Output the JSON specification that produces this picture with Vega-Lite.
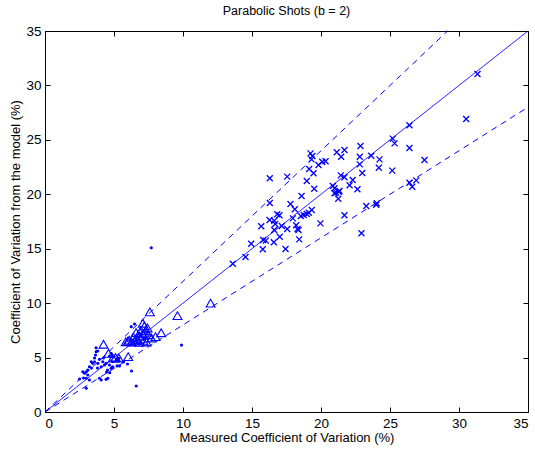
{
  "$schema": "https://vega.github.io/schema/vega-lite/v6.json",
  "autosize": {"type": "none"},
  "width": 483,
  "height": 381,
  "padding": {"left": 45, "top": 31, "right": 7, "bottom": 42},
  "background": "white",
  "config": {
    "view": {"stroke": "black", "strokeWidth": 1},
    "font": "Liberation Sans",
    "axis": {"grid": false, "domainColor": "black", "tickColor": "black", "labelColor": "black", "titleColor": "black", "labelFont": "Liberation Sans", "titleFont": "Liberation Sans", "titleFontWeight": "normal", "labelFontSize": 13.5, "titleFontSize": 13}
  },
  "title": {"text": "Parabolic Shots (b = 2)", "fontSize": 12.5, "fontWeight": "normal", "font": "Liberation Sans", "color": "black", "offset": 7, "anchor": "middle"},
  "datasets": {
    "lines": [
      {"x": 0, "y": 0, "line": "equal"}, {"x": 35, "y": 35, "line": "equal"},
      {"x": 0, "y": 0, "line": "upper"}, {"x": 29.17, "y": 35, "line": "upper"},
      {"x": 0, "y": 0, "line": "lower"}, {"x": 35, "y": 28, "line": "lower"}
    ],
    "crosses": [
      {"x": 19.24, "y": 23.76}, {"x": 21.14, "y": 23.86}, {"x": 19.31, "y": 23.21}, {"x": 19.38, "y": 23.52},
      {"x": 19.82, "y": 22.69}, {"x": 20.09, "y": 22.99}, {"x": 20.33, "y": 23.03}, {"x": 19.14, "y": 22.32},
      {"x": 19.46, "y": 21.93}, {"x": 16.29, "y": 21.47}, {"x": 17.55, "y": 21.62}, {"x": 18.97, "y": 21.22},
      {"x": 19.51, "y": 20.51}, {"x": 18.59, "y": 19.84}, {"x": 16.29, "y": 19.2}, {"x": 17.79, "y": 19.11},
      {"x": 18.1, "y": 18.62}, {"x": 16.83, "y": 18.16}, {"x": 16.99, "y": 18.07}, {"x": 19.33, "y": 18.56},
      {"x": 19.12, "y": 18.31}, {"x": 18.97, "y": 18.19}, {"x": 18.75, "y": 18.1}, {"x": 18.54, "y": 18.0},
      {"x": 17.96, "y": 17.79}, {"x": 16.27, "y": 17.64}, {"x": 16.61, "y": 17.57}, {"x": 16.68, "y": 17.27},
      {"x": 15.67, "y": 17.06}, {"x": 17.16, "y": 17.09}, {"x": 18.2, "y": 17.15}, {"x": 18.3, "y": 16.81},
      {"x": 18.37, "y": 16.72}, {"x": 17.55, "y": 16.81}, {"x": 16.61, "y": 16.72}, {"x": 19.96, "y": 17.33},
      {"x": 17.01, "y": 16.1}, {"x": 15.81, "y": 15.8}, {"x": 16.0, "y": 15.74}, {"x": 18.42, "y": 15.86},
      {"x": 14.94, "y": 15.46}, {"x": 16.58, "y": 15.59}, {"x": 15.78, "y": 14.95}, {"x": 17.43, "y": 14.97},
      {"x": 14.53, "y": 14.24}, {"x": 13.61, "y": 13.62}, {"x": 20.98, "y": 20.55}, {"x": 21.1, "y": 20.15},
      {"x": 21.25, "y": 19.59}, {"x": 21.29, "y": 20.24}, {"x": 30.52, "y": 26.92}, {"x": 26.41, "y": 26.34},
      {"x": 25.2, "y": 25.11}, {"x": 25.33, "y": 24.68}, {"x": 22.86, "y": 24.43}, {"x": 26.41, "y": 24.25},
      {"x": 21.7, "y": 24.07}, {"x": 21.46, "y": 23.45}, {"x": 22.81, "y": 23.45}, {"x": 23.64, "y": 23.54},
      {"x": 24.24, "y": 23.21}, {"x": 27.5, "y": 23.15}, {"x": 22.81, "y": 22.75}, {"x": 24.19, "y": 22.44},
      {"x": 25.16, "y": 22.17}, {"x": 22.99, "y": 21.95}, {"x": 21.43, "y": 21.74}, {"x": 21.7, "y": 21.56},
      {"x": 22.3, "y": 21.31}, {"x": 26.41, "y": 21.06}, {"x": 26.61, "y": 20.7}, {"x": 26.9, "y": 21.28},
      {"x": 22.07, "y": 20.83}, {"x": 20.86, "y": 20.76}, {"x": 21.34, "y": 20.3}, {"x": 22.64, "y": 20.46},
      {"x": 21.7, "y": 18.07}, {"x": 23.28, "y": 18.92}, {"x": 24.0, "y": 19.04}, {"x": 24.04, "y": 19.17},
      {"x": 22.93, "y": 16.42}, {"x": 31.34, "y": 31.05}, {"x": 20.98, "y": 20.09}
    ],
    "triangles": [
      {"x": 4.24, "y": 6.22}, {"x": 4.6, "y": 5.39}, {"x": 4.91, "y": 4.96}, {"x": 5.11, "y": 5.02},
      {"x": 5.35, "y": 4.96}, {"x": 6.03, "y": 5.08}, {"x": 6.27, "y": 6.43}, {"x": 6.49, "y": 6.52},
      {"x": 6.7, "y": 6.61}, {"x": 6.92, "y": 6.71}, {"x": 7.14, "y": 6.52}, {"x": 7.36, "y": 6.43},
      {"x": 6.63, "y": 6.8}, {"x": 6.85, "y": 6.98}, {"x": 7.07, "y": 7.17}, {"x": 7.28, "y": 7.44},
      {"x": 7.43, "y": 7.72}, {"x": 7.09, "y": 8.15}, {"x": 7.6, "y": 9.2}, {"x": 7.21, "y": 7.26},
      {"x": 7.72, "y": 6.8}, {"x": 8.01, "y": 6.92}, {"x": 8.42, "y": 7.28}, {"x": 9.6, "y": 8.85},
      {"x": 12.0, "y": 10.0}, {"x": 6.1, "y": 6.6}, {"x": 6.4, "y": 6.9}, {"x": 6.95, "y": 7.5},
      {"x": 7.5, "y": 7.1}, {"x": 6.6, "y": 7.3}, {"x": 6.0, "y": 6.5}, {"x": 5.85, "y": 6.45},
      {"x": 7.2, "y": 7.9}, {"x": 6.8, "y": 6.4}
    ],
    "dots": [
      {"x": 3.71, "y": 5.54}, {"x": 3.66, "y": 5.24}, {"x": 3.95, "y": 4.84}, {"x": 4.19, "y": 4.62},
      {"x": 4.43, "y": 4.47}, {"x": 4.67, "y": 4.32}, {"x": 4.31, "y": 4.32}, {"x": 4.07, "y": 4.16},
      {"x": 3.83, "y": 4.47}, {"x": 3.59, "y": 4.62}, {"x": 4.91, "y": 4.62}, {"x": 5.16, "y": 4.78},
      {"x": 5.35, "y": 4.93}, {"x": 3.22, "y": 4.16}, {"x": 3.1, "y": 3.86}, {"x": 2.99, "y": 3.7},
      {"x": 2.86, "y": 3.56}, {"x": 3.1, "y": 3.4}, {"x": 2.99, "y": 3.1}, {"x": 3.22, "y": 2.94},
      {"x": 3.95, "y": 3.1}, {"x": 4.43, "y": 3.0}, {"x": 4.91, "y": 4.16}, {"x": 4.8, "y": 4.01},
      {"x": 6.61, "y": 2.39}, {"x": 2.99, "y": 2.18}, {"x": 3.35, "y": 4.62}, {"x": 3.46, "y": 4.47},
      {"x": 2.74, "y": 3.7}, {"x": 4.07, "y": 2.94}, {"x": 4.55, "y": 3.1}, {"x": 6.27, "y": 3.77},
      {"x": 9.89, "y": 6.15}, {"x": 7.7, "y": 15.09}, {"x": 6.25, "y": 7.84}, {"x": 6.49, "y": 8.08},
      {"x": 3.59, "y": 4.96}, {"x": 3.37, "y": 4.04}, {"x": 4.46, "y": 3.67}, {"x": 5.4, "y": 4.23},
      {"x": 5.69, "y": 4.59}, {"x": 5.98, "y": 4.41}, {"x": 4.67, "y": 5.14}, {"x": 4.24, "y": 4.96},
      {"x": 3.8, "y": 4.04}, {"x": 2.79, "y": 3.12}, {"x": 2.5, "y": 3.03}, {"x": 3.82, "y": 5.6},
      {"x": 3.7, "y": 5.9}, {"x": 4.79, "y": 5.38}, {"x": 5.2, "y": 4.83}, {"x": 5.35, "y": 4.68},
      {"x": 4.53, "y": 3.86}, {"x": 4.69, "y": 3.61}, {"x": 4.87, "y": 4.1}, {"x": 5.23, "y": 4.23}
    ]
  },
  "layer": [
    {
      "data": {"name": "lines"},
      "mark": {"type": "line", "color": "#0000ff", "strokeWidth": 1},
      "encoding": {
        "x": {"field": "x", "type": "quantitative", "scale": {"domain": [0, 35], "nice": false}, "axis": {"values": [0, 5, 10, 15, 20, 25, 30, 35], "tickSize": -5, "labelPadding": 9, "title": "Measured Coefficient of Variation (%)", "titlePadding": 2}},
        "y": {"field": "y", "type": "quantitative", "scale": {"domain": [0, 35], "nice": false}, "axis": {"values": [0, 5, 10, 15, 20, 25, 30, 35], "tickSize": -5, "labelPadding": 9, "title": "Coefficient of Variation from the model (%)", "titlePadding": 3}},
        "detail": {"field": "line"},
        "strokeDash": {"field": "line", "type": "nominal", "scale": {"domain": ["equal", "upper", "lower"], "range": [[1, 0], [6, 5], [6, 5]]}, "legend": null}
      }
    },
    {
      "data": {"name": "lines"},
      "mark": {"type": "point", "opacity": 0},
      "encoding": {
        "x": {"field": "x", "type": "quantitative", "scale": {"domain": [0, 35], "nice": false}, "axis": {"orient": "top", "values": [0, 5, 10, 15, 20, 25, 30, 35], "tickSize": -5, "labels": false, "title": null}},
        "y": {"field": "y", "type": "quantitative", "scale": {"domain": [0, 35], "nice": false}, "axis": {"orient": "right", "values": [0, 5, 10, 15, 20, 25, 30, 35], "tickSize": -5, "labels": false, "title": null}}
      }
    },
    {
      "data": {"name": "crosses"},
      "mark": {"type": "point", "shape": "M-1,-1L1,1M-1,1L1,-1", "filled": false, "color": "#0000ff", "size": 36, "strokeWidth": 1.3, "opacity": 1},
      "encoding": {
        "x": {"field": "x", "type": "quantitative", "scale": {"domain": [0, 35], "nice": false}, "axis": null},
        "y": {"field": "y", "type": "quantitative", "scale": {"domain": [0, 35], "nice": false}, "axis": null}
      }
    },
    {
      "data": {"name": "triangles"},
      "mark": {"type": "point", "shape": "triangle-up", "filled": false, "color": "#0000ff", "size": 80, "strokeWidth": 1.1, "opacity": 1},
      "encoding": {
        "x": {"field": "x", "type": "quantitative", "scale": {"domain": [0, 35], "nice": false}, "axis": null},
        "y": {"field": "y", "type": "quantitative", "scale": {"domain": [0, 35], "nice": false}, "axis": null}
      }
    },
    {
      "data": {"name": "dots"},
      "mark": {"type": "point", "shape": "circle", "filled": true, "color": "#0000ff", "size": 10, "opacity": 1},
      "encoding": {
        "x": {"field": "x", "type": "quantitative", "scale": {"domain": [0, 35], "nice": false}, "axis": null},
        "y": {"field": "y", "type": "quantitative", "scale": {"domain": [0, 35], "nice": false}, "axis": null}
      }
    }
  ],
  "resolve": {"axis": {"x": "independent", "y": "independent"}}
}
